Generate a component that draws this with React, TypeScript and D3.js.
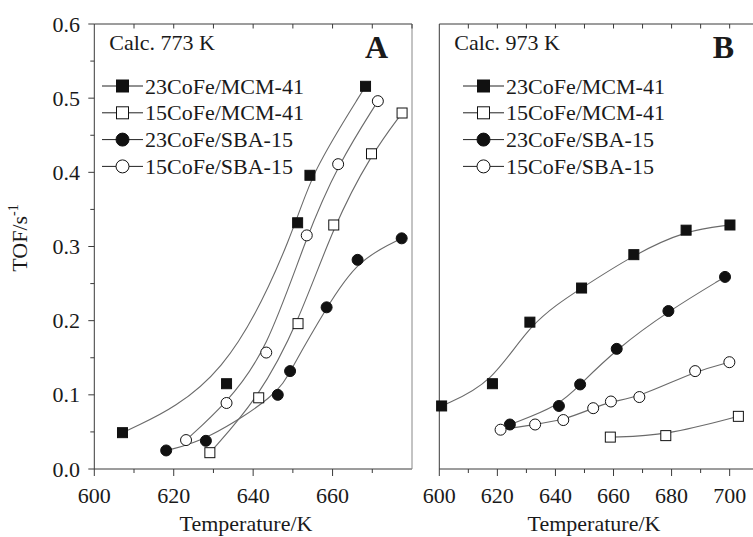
import React from "react";
import * as d3 from "d3";

// ---- Data ----
const seriesNames = ["23CoFe/MCM-41", "15CoFe/MCM-41", "23CoFe/SBA-15", "15CoFe/SBA-15"];
const seriesShapes = ["square", "square", "circle", "circle"];
const seriesFilled = [true, false, true, false];

// Panel A: Calc. 773 K
const aT23MCM = [607.1, 633.3, 651.2, 654.3, 668.3];
const aV23MCM = [0.049, 0.115, 0.332, 0.396, 0.516];
const aT15MCM = [629.1, 641.4, 651.3, 660.3, 669.8, 677.5];
const aV15MCM = [0.022, 0.096, 0.196, 0.329, 0.425, 0.48];
const aT23SBA = [618.1, 628.1, 646.2, 649.3, 658.5, 666.3, 677.4];
const aV23SBA = [0.025, 0.038, 0.1, 0.132, 0.218, 0.282, 0.311];
const aT15SBA = [623.1, 633.3, 643.3, 653.5, 661.4, 671.4];
const aV15SBA = [0.039, 0.089, 0.157, 0.315, 0.411, 0.496];

// Panel B: Calc. 973 K
const bT23MCM = [600.8, 618.3, 631.2, 649.0, 667.0, 685.0, 700.1];
const bV23MCM = [0.085, 0.115, 0.198, 0.244, 0.289, 0.322, 0.329];
const bT15MCM = [658.9, 678.0, 703.0];
const bV15MCM = [0.043, 0.045, 0.071];
const bT23SBA = [624.3, 641.2, 648.5, 661.1, 678.9, 698.4];
const bV23SBA = [0.06, 0.085, 0.114, 0.162, 0.213, 0.259];
const bT15SBA = [621.1, 633.0, 642.7, 653.0, 659.1, 668.9, 688.1, 699.9];
const bV15SBA = [0.053, 0.06, 0.066, 0.082, 0.091, 0.097, 0.132, 0.144];

const yTicks = [0.0, 0.1, 0.2, 0.3, 0.4, 0.5, 0.6];
const aXTicks = [600, 620, 640, 660];
const bXTicks = [600, 620, 640, 660, 680, 700];

const W = 753;
const H = 537;
const FONT = "'Liberation Serif', 'Times New Roman', serif";
const TXT = "#1a1a1a";
const AX = "#3a3a3a";
const CURVE = "#6a6a6a";

const y = d3.scaleLinear().domain([0, 0.6]).range([469, 24]);
const xA = d3.scaleLinear().domain([600, 680]).range([94.3, 412]);
const xB = d3.scaleLinear().domain([600, 710]).range([439.3, 758.7]);

type Pt = [number, number];
const zip = (t: number[], v: number[]): Pt[] => t.map((d, i) => [d, v[i]]);

const aSeries = [zip(aT23MCM, aV23MCM), zip(aT15MCM, aV15MCM), zip(aT23SBA, aV23SBA), zip(aT15SBA, aV15SBA)];
const bSeries = [zip(bT23MCM, bV23MCM), zip(bT15MCM, bV15MCM), zip(bT23SBA, bV23SBA), zip(bT15SBA, bV15SBA)];

function Marker({ cx, cy, shape, filled, size }: { cx: number; cy: number; shape: string; filled: boolean; size: number }) {
  const fill = filled ? "#111" : "#fff";
  if (shape === "square") {
    return <rect x={cx - size / 2} y={cy - size / 2} width={size} height={size} fill={fill} stroke="#111" strokeWidth={1} />;
  }
  return <circle cx={cx} cy={cy} r={size / 2 + 0.5} fill={fill} stroke="#111" strokeWidth={1} />;
}

function Panel({ x, series, xTicks, domainMax, label, letter, letterX, offset, left }: any) {
  const x0 = x.range()[0];
  const x1 = x.range()[1];
  const line = d3
    .line<Pt>()
    .x((d) => x(d[0]))
    .y((d) => y(d[1]))
    .curve(d3.curveBasis);
  const minor = d3.range(610, domainMax + 1, 20);
  const all10 = d3.range(610, domainMax + 1, 10);
  const rows = [86, 112.8, 139.6, 166.4];
  return (
    <g>
      {/* frame */}
      <line x1={x0} x2={Math.min(x1, W + 5)} y1={24} y2={24} stroke={AX} strokeWidth={1} />
      <line x1={x0} x2={Math.min(x1, W + 5)} y1={469} y2={469} stroke={AX} strokeWidth={1} />
      <line x1={x0} x2={x0} y1={24} y2={469} stroke={AX} strokeWidth={1} />
      <line x1={x1} x2={x1} y1={24} y2={469} stroke="#888" strokeWidth={1} />
      {/* top ticks inward */}
      {all10.map((t: number) => (
        <line key={"tt" + t} x1={x(t)} x2={x(t)} y1={24} y2={28.5} stroke={AX} strokeWidth={1} />
      ))}
      {/* bottom ticks outward */}
      {xTicks.map((t: number) => (
        <line key={"bt" + t} x1={x(t)} x2={x(t)} y1={469} y2={476} stroke={AX} strokeWidth={1} />
      ))}
      {minor.map((t: number) => (
        <line key={"bm" + t} x1={x(t)} x2={x(t)} y1={469} y2={473} stroke={AX} strokeWidth={1} />
      ))}
      {xTicks.map((t: number) => (
        <text key={"xl" + t} x={x(t)} y={503} textAnchor="middle" fontSize={22} fontFamily={FONT} fill={TXT}>
          {t}
        </text>
      ))}
      {left &&
        yTicks.map((t) => (
          <g key={"yt" + t}>
            <line x1={x0 - 6} x2={x0} y1={y(t)} y2={y(t)} stroke={AX} strokeWidth={1} />
            <text x={80} y={y(t) + 7.5} textAnchor="end" fontSize={22} fontFamily={FONT} fill={TXT}>
              {t.toFixed(1)}
            </text>
          </g>
        ))}
      {left &&
        d3.range(0.05, 0.6, 0.1).map((t) => (
          <line key={"ym" + t} x1={x0 - 4} x2={x0} y1={y(t)} y2={y(t)} stroke={AX} strokeWidth={1} />
        ))}
      {/* curves */}
      {series.map((s: Pt[], i: number) => (
        <path key={"c" + i} d={line(s) || ""} fill="none" stroke={CURVE} strokeWidth={1.1} />
      ))}
      {/* markers */}
      {series.map((s: Pt[], i: number) =>
        s.map((d, j) => (
          <Marker key={"m" + i + "-" + j} cx={x(d[0])} cy={y(d[1])} shape={seriesShapes[i]} filled={seriesFilled[i]} size={10} />
        ))
      )}
      {/* labels */}
      <text x={x0 + 15} y={50} fontSize={22} fontFamily={FONT} fill={TXT}>
        {label}
      </text>
      <text x={letterX} y={57.5} textAnchor="end" fontSize={32} fontWeight="bold" fontFamily={FONT} fill={TXT}>
        {letter}
      </text>
      {/* legend */}
      {seriesNames.map((n, i) => (
        <g key={"lg" + i}>
          <line x1={102 + offset} x2={143 + offset} y1={rows[i]} y2={rows[i]} stroke="#222" strokeWidth={1} />
          <Marker cx={122.5 + offset} cy={rows[i]} shape={seriesShapes[i]} filled={seriesFilled[i]} size={12} />
          <text x={145 + offset} y={rows[i] + 7.5} fontSize={22} fontFamily={FONT} fill={TXT}>
            {n}
          </text>
        </g>
      ))}
    </g>
  );
}

export default function App() {
  return (
    <svg width={W} height={H} style={{ position: "absolute", left: 0, top: 0, background: "#fff" }}>
      <rect x={0} y={0} width={W} height={H} fill="#fff" />
      <Panel x={xA} series={aSeries} xTicks={aXTicks} domainMax={680} label="Calc. 773 K" letter="A" letterX={388} offset={0} left={true} />
      <Panel x={xB} series={bSeries} xTicks={bXTicks} domainMax={710} label="Calc. 973 K" letter="B" letterX={734} offset={361} left={false} />
      <text x={246} y={531} textAnchor="middle" fontSize={22} fontFamily={FONT} fill={TXT}>
        Temperature/K
      </text>
      <text x={594} y={531} textAnchor="middle" fontSize={22} fontFamily={FONT} fill={TXT}>
        Temperature/K
      </text>
      <text transform="translate(27,238) rotate(-90)" textAnchor="middle" fontSize={22} fontFamily={FONT} fill={TXT}>
        TOF/s
        <tspan fontSize={14} dy={-9}>
          -1
        </tspan>
      </text>
    </svg>
  );
}
